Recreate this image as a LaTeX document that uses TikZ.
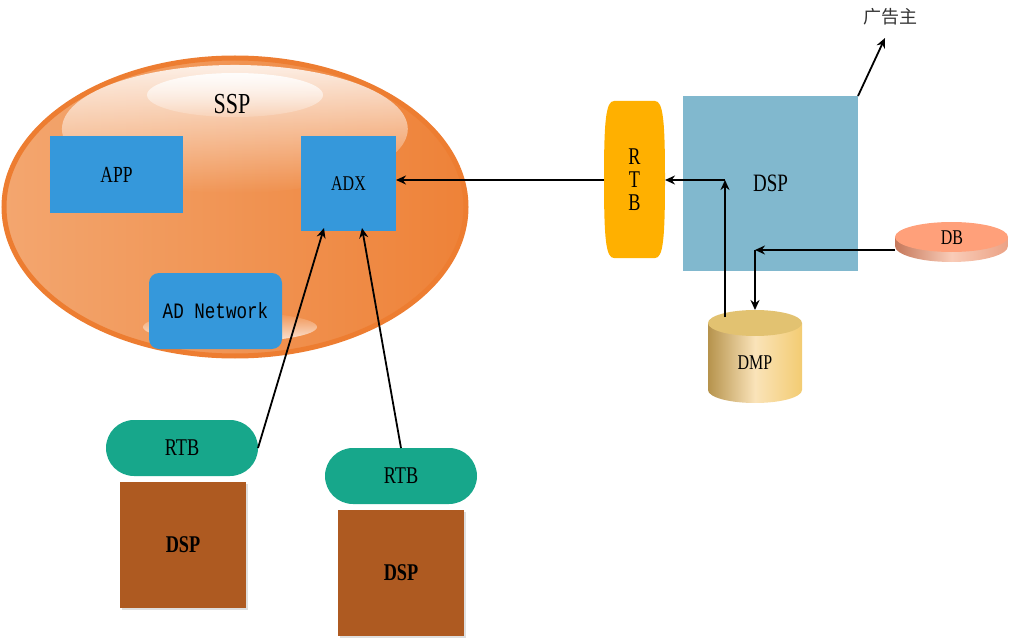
\documentclass[tikz,border=0pt]{standalone}
\usepackage{fontspec}
\setmainfont{Liberation Serif}
\newfontfamily\cjk{Noto Sans CJK SC}
\newfontfamily\nar[FakeStretch=0.76]{Liberation Serif}
\newfontfamily\narmono[FakeStretch=0.8]{Liberation Mono}
\usetikzlibrary{arrows.meta,fadings,shadows,calc}
\definecolor{boxblue}{HTML}{3598DB}
\definecolor{dspblue}{HTML}{81B8CE}
\definecolor{rtbor}{HTML}{FFB000}
\definecolor{rtbgreen}{HTML}{17A78B}
\definecolor{dspbrown}{HTML}{AE5A21}
\definecolor{sspedge}{HTML}{ED7D31}
\definecolor{ssplight}{HTML}{F3A66F}
\definecolor{sspdark}{HTML}{EE8238}
\definecolor{dbtop}{HTML}{FFA07A}
\definecolor{dbsideL}{HTML}{C5775A}
\definecolor{dbsideM}{HTML}{F9CCB8}
\definecolor{dbsideR}{HTML}{EBA285}
\definecolor{dmptop}{HTML}{E2C271}
\definecolor{dmpL}{HTML}{B6934C}
\definecolor{dmpM}{HTML}{FAE3B9}
\definecolor{dmpR}{HTML}{F3CC72}
\tikzfading[name=glossbig, top color=transparent!15, middle color=transparent!78, bottom color=transparent!100]
\tikzfading[name=glosssmall, top color=transparent!10, bottom color=transparent!85]
\tikzfading[name=glossup, top color=transparent!100, bottom color=transparent!20]
\tikzset{
  plainbox/.style={inner sep=0pt, outer sep=0pt},
  bluebox/.style={plainbox, fill=boxblue},
  greenpill/.style={plainbox, fill=rtbgreen, rounded corners=28pt, minimum width=152pt, minimum height=56pt, font=\nar\fontsize{24}{26}\selectfont},
  brownbox/.style={plainbox, fill=dspbrown, minimum width=126pt, minimum height=126pt, font=\nar\bfseries\fontsize{24}{26}\selectfont, drop shadow={shadow xshift=2pt, shadow yshift=-2pt, opacity=0.25}},
  arr/.style={line width=1.8pt, -{Stealth[length=10pt,width=9pt]}}
}
\begin{document}
\begin{tikzpicture}[x=1pt,y=-1pt]
\useasboundingbox (0,0) rectangle (1009,639);
% SSP ellipse
\shade[left color=ssplight, right color=sspdark] (235,207) ellipse [x radius=231pt, y radius=149pt];
\draw[sspedge, line width=5pt] (235,207) ellipse [x radius=231pt, y radius=149pt];
\fill[white, path fading=glossbig] (235,129) ellipse [x radius=173pt, y radius=64pt];
\fill[white, path fading=glosssmall] (235,95) ellipse [x radius=88pt, y radius=22pt];
\fill[white, path fading=glossup] (230,327) ellipse [x radius=87pt, y radius=15pt];
\node[plainbox, font=\nar\fontsize{29}{31}\selectfont] (ssp) at (232,104) {SSP};
\node[bluebox, minimum width=133pt, minimum height=77pt, font=\nar\fontsize{23}{25}\selectfont] (app) at (116.5,174.5) {APP};
\node[bluebox, minimum width=95pt, minimum height=95pt, font=\nar\fontsize{21}{23}\selectfont] (adx) at (348.5,183.5) {ADX};
\node[bluebox, rounded corners=10pt, minimum width=133pt, minimum height=76pt, font=\narmono\fontsize{22}{24}\selectfont] (adn) at (215.5,311) {AD Network};
% right RTB (vertical barrel)
\fill[rtbor] (614,101) -- (655,101) .. controls (663,101) and (665,120) .. (665,179) .. controls (665,240) and (663,258) .. (655,258) -- (614,258) .. controls (606,258) and (604,240) .. (604,179) .. controls (604,120) and (606,101) .. (614,101) -- cycle;
\node[plainbox, minimum width=61pt, minimum height=157pt, align=center, font=\nar\fontsize{24}{23}\selectfont] (rtbv) at (634.5,179.5) {R\\T\\B};
% DSP (blue)
\node[plainbox, fill=dspblue, minimum width=175pt, minimum height=175pt, font=\nar\fontsize{25}{27}\selectfont] (dsp) at (770.5,183.5) {DSP};
% DB disk
\shade[left color=dbsideL, right color=dbsideR, middle color=dbsideM] (895,237) -- (895,246) arc[start angle=180, end angle=360, x radius=56.5pt, y radius=16pt] -- (1008,237) -- cycle;
\fill[dbtop] (951.5,237) ellipse [x radius=56.5pt, y radius=15pt];
\node[plainbox, minimum width=113pt, minimum height=40pt] (db) at (951.5,241) {};
\node[plainbox, font=\nar\fontsize{21}{23}\selectfont] (dbt) at (952,238) {DB};
% DMP cylinder
\shade[left color=dmpL, right color=dmpR, middle color=dmpM] (708,323) -- (708,390) arc[start angle=180, end angle=360, x radius=47pt, y radius=13pt] -- (802,323) -- cycle;
\fill[dmptop] (755,323) ellipse [x radius=47pt, y radius=13pt];
\node[plainbox, minimum width=94pt, minimum height=93pt] (dmp) at (755,356.5) {};
\node[plainbox, font=\nar\fontsize{21}{23}\selectfont] (dmpt) at (755,363) {DMP};
% advertiser
\node[plainbox, font=\cjk\fontsize{18}{20}\selectfont, text=black!80] (adv) at (890,17) {广告主};
\coordinate (advtip) at (885,38);
% bottom RTB + DSP pairs
\node[greenpill] (rtb1) at (182,448) {RTB};
\node[brownbox] (dsp1) at (183,545) {DSP};
\node[greenpill] (rtb2) at (401,476) {RTB};
\node[brownbox] (dsp2) at (401,573) {DSP};
% connectors
\coordinate (c1) at (725,180);
\coordinate (c2) at (755,250);
\draw[arr] (rtbv.west |- c1) -- (c1 -| adx.east);
\draw[arr] ($(dmp.north)+(-30,7)$) -- (c1);
\draw[arr] (c1) -- (c1 -| rtbv.east);
\draw[arr] (c2 -| db.west) -- (c2);
\draw[arr] (c2) -- (c2 |- dmp.north);
\draw[arr] (dsp.north east) -- (advtip);
\draw[arr] (rtb1.east) -- ($(adx.south west)+(23,-3)$);
\draw[arr] (rtb2.north) -- ($(adx.south west)+(61,-3)$);
\end{tikzpicture}
\end{document}
